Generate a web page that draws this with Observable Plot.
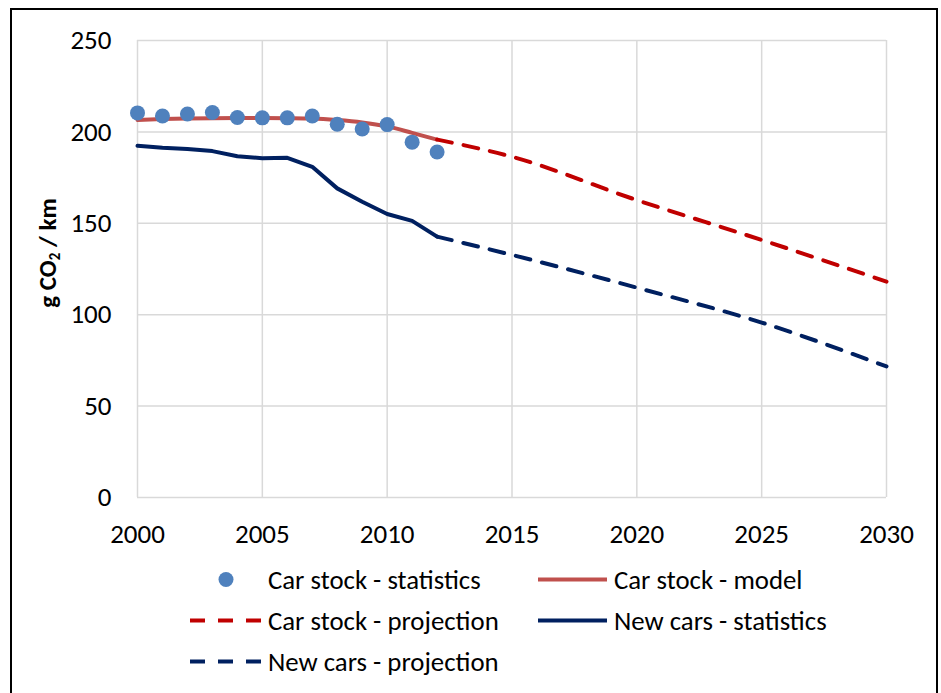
<!DOCTYPE html>
<html>
<head>
<meta charset="utf-8">
<script src="https://cdn.jsdelivr.net/npm/d3@7"></script>
<script src="https://cdn.jsdelivr.net/npm/@observablehq/plot@0.6"></script>
<style>
  html, body { margin: 0; padding: 0; background: #fff; }
  #wrap { position: relative; width: 941px; height: 693px; overflow: hidden; font-family: Carlito, Calibri, Lato, sans-serif; color: #000; }
  #frame { position: absolute; left: 10px; top: 8px; width: 928px; height: 700px; border: 2px solid #000; box-sizing: border-box; }
  #chart { position: absolute; left: 0; top: 0; }
  #ylabel { position: absolute; left: 48px; top: 253px; transform: translate(-50%, -50%) rotate(-90deg); font-weight: bold; font-size: 25px; white-space: nowrap; }
  #ylabel sub { font-size: 15px; vertical-align: -4px; }
  .leg { position: absolute; display: flex; align-items: center; font-size: 26.8px; white-space: nowrap; transform: translateY(-50%); }
  .leg svg { display: block; margin-right: 7px; }
</style>
</head>
<body>
<div id="wrap">
  <div id="frame"></div>
  <div id="chart"></div>
  <div id="ylabel">g CO<sub>2</sub> / km</div>
  <div id="legend"></div>
</div>
<script>
// ---- data ----
const statYears = [2000, 2001, 2002, 2003, 2004, 2005, 2006, 2007, 2008, 2009, 2010, 2011, 2012];
const carStockStatistics = [210.4, 208.7, 209.8, 210.6, 207.9, 207.7, 207.7, 208.7, 204.2, 201.6, 204.0, 194.4, 189.0];
const carStockModel = [206.5, 207.0, 207.3, 207.5, 207.6, 207.6, 207.5, 207.3, 206.5, 205.2, 203.0, 199.5, 195.8];
const newCarsStatistics = [192.4, 191.3, 190.6, 189.5, 186.7, 185.6, 185.8, 180.9, 169.1, 161.8, 155.1, 151.3, 142.7];
const projYears = [2012, 2015, 2020, 2025, 2030];
const carStockProjection = [195.8, 186.4, 162.7, 140.9, 118.1];
const newCarsProjection = [142.7, 132.7, 114.8, 95.7, 71.7];
const xTicks = [2000, 2005, 2010, 2015, 2020, 2025, 2030];
const yTicks = [0, 50, 100, 150, 200, 250];
const legendLabels = ["Car stock - statistics", "Car stock - model", "Car stock - projection", "New cars - statistics", "New cars - projection"];

const colors = {
  stockStat: "#4F81BD",
  stockModel: "#C0504D",
  stockProj: "#C00000",
  newStat: "#002060",
  newProj: "#002060"
};

const toRows = (xs, ys) => xs.map((x, i) => ({x, y: ys[i]}));
const stockStatRows = toRows(statYears, carStockStatistics);
const stockModelRows = toRows(statYears, carStockModel);
const newStatRows = toRows(statYears, newCarsStatistics);
const stockProjRows = toRows(projYears, carStockProjection);
const newProjRows = toRows(projYears, newCarsProjection);

const dash = "15,12";

const plot = Plot.plot({
  width: 941,
  height: 560,
  marginLeft: 137,
  marginRight: 55,
  marginTop: 40,
  marginBottom: 63,
  style: { fontFamily: "Carlito, Calibri, Lato, sans-serif", fontSize: "27px", color: "#000", background: "transparent", overflow: "visible" },
  x: { domain: [2000, 2030] },
  y: { domain: [0, 250] },
  marks: [
    Plot.ruleX(xTicks, { stroke: "#d9d9d9", strokeWidth: 1.5 }),
    Plot.ruleY(yTicks, { stroke: "#d9d9d9", strokeWidth: 1.5 }),
    Plot.axisX({ ticks: xTicks, tickSize: 0, tickPadding: 26, tickFormat: d => String(d), label: null, fontSize: 27 }),
    Plot.axisY({ ticks: yTicks, tickSize: 0, tickPadding: 26, label: null, fontSize: 27 }),
    Plot.line(stockModelRows, { x: "x", y: "y", stroke: colors.stockModel, strokeWidth: 4, curve: "monotone-x" }),
    Plot.line(stockProjRows, { x: "x", y: "y", stroke: colors.stockProj, strokeWidth: 4, strokeDasharray: dash, curve: "monotone-x" }),
    Plot.line(newStatRows, { x: "x", y: "y", stroke: colors.newStat, strokeWidth: 4, strokeLinejoin: "round" }),
    Plot.line(newProjRows, { x: "x", y: "y", stroke: colors.newProj, strokeWidth: 4, strokeDasharray: dash, curve: "monotone-x" }),
    Plot.dot(stockStatRows, { x: "x", y: "y", r: 7.5, fill: colors.stockStat, stroke: "none" })
  ]
});
document.getElementById("chart").appendChild(plot);

// ---- legend ----
const legendItems = [
  { label: legendLabels[0], kind: "dot", color: colors.stockStat, sx: 216, y: 579, sw: 45 },
  { label: legendLabels[1], kind: "line", color: colors.stockModel, sx: 538, y: 579, sw: 69 },
  { label: legendLabels[2], kind: "dash", color: colors.stockProj, sx: 190, y: 620, sw: 71 },
  { label: legendLabels[3], kind: "line", color: colors.newStat, sx: 538, y: 620, sw: 69 },
  { label: legendLabels[4], kind: "dash", color: colors.newProj, sx: 190, y: 661, sw: 71 }
];
const legend = document.getElementById("legend");
const ns = "http://www.w3.org/2000/svg";
for (const it of legendItems) {
  const div = document.createElement("div");
  div.className = "leg";
  div.style.left = it.sx + "px";
  div.style.top = it.y + "px";
  const svg = document.createElementNS(ns, "svg");
  svg.setAttribute("width", it.sw);
  svg.setAttribute("height", 16);
  if (it.kind === "dot") {
    const c = document.createElementNS(ns, "circle");
    c.setAttribute("cx", 10); c.setAttribute("cy", 8); c.setAttribute("r", 7.5);
    c.setAttribute("fill", it.color);
    svg.appendChild(c);
  } else {
    const l = document.createElementNS(ns, "line");
    l.setAttribute("x1", 0); l.setAttribute("x2", it.sw); l.setAttribute("y1", 8); l.setAttribute("y2", 8);
    l.setAttribute("stroke", it.color); l.setAttribute("stroke-width", 4);
    if (it.kind === "dash") l.setAttribute("stroke-dasharray", "15,13");
    svg.appendChild(l);
  }
  div.appendChild(svg);
  const span = document.createElement("span");
  span.textContent = it.label;
  div.appendChild(span);
  legend.appendChild(div);
}
</script>
</body>
</html>
